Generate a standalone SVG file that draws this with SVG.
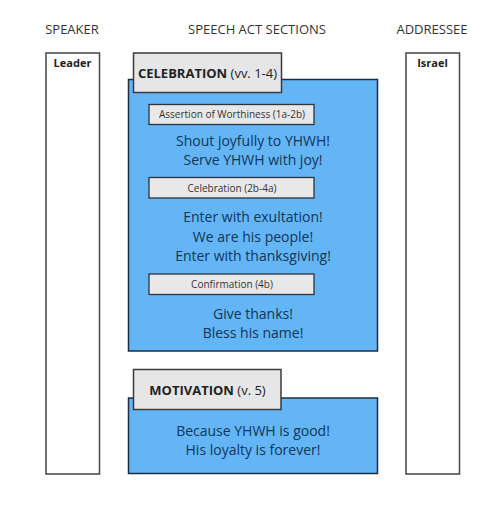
<svg xmlns="http://www.w3.org/2000/svg" width="500" height="509" viewBox="0 0 500 509">
<style>
text{font-family:"Open Sans","Noto Sans","DejaVu Sans",sans-serif}
.hdr{font-size:13px;fill:#333;text-anchor:middle}
.col{fill:#fff;stroke:#444;stroke-width:1.5}
.colt{font-size:11px;font-weight:bold;fill:#222;text-anchor:middle}
.blue{fill:#64b5f6;stroke:#1c2e40;stroke-width:1.5}
.tab{fill:#e6e6e6;stroke:#3a3a3a;stroke-width:1.5}
.tabt{font-size:13px;fill:#222;text-anchor:middle}
.sub{fill:#e8e8e8;stroke:#2a3440;stroke-width:1.3}
.subt{font-size:10px;fill:#333;text-anchor:middle}
.body{font-size:14px;fill:#0f3557;text-anchor:middle}
</style>
<g id="headers">
<text class="hdr" x="72" y="34">SPEAKER</text>
<text class="hdr" x="257" y="34">SPEECH ACT SECTIONS</text>
<text class="hdr" x="432" y="34">ADDRESSEE</text>
</g>
<g id="speaker">
<rect class="col" x="46" y="53" width="53.5" height="421"/>
<text class="colt" x="72.5" y="67">Leader</text>
</g>
<g id="addressee">
<rect class="col" x="406" y="53" width="53.5" height="421"/>
<text class="colt" x="432.5" y="67">Israel</text>
</g>
<g id="celebration">
<rect class="blue" x="128.5" y="79.5" width="249" height="271.5"/>
<rect class="tab" x="133.5" y="53" width="148" height="39.5"/>
<text class="tabt" x="207.5" y="78"><tspan font-weight="bold">CELEBRATION</tspan> (vv. 1-4)</text>
</g>
<g id="assertion">
<rect class="sub" x="149" y="104.5" width="165" height="20"/>
<text class="subt" x="232" y="118">Assertion of Worthiness (1a-2b)</text>
<text class="body" x="253" y="146">Shout joyfully to YHWH!</text>
<text class="body" x="253" y="165">Serve YHWH with joy!</text>
</g>
<g id="celebration-sub">
<rect class="sub" x="149" y="177.5" width="165" height="20.5"/>
<text class="subt" x="232" y="191.5">Celebration (2b-4a)</text>
<text class="body" x="253" y="222">Enter with exultation!</text>
<text class="body" x="253" y="242">We are his people!</text>
<text class="body" x="253" y="261">Enter with thanksgiving!</text>
</g>
<g id="confirmation">
<rect class="sub" x="149" y="274" width="165" height="20.5"/>
<text class="subt" x="232" y="288">Confirmation (4b)</text>
<text class="body" x="253" y="319">Give thanks!</text>
<text class="body" x="253" y="338">Bless his name!</text>
</g>
<g id="motivation">
<rect class="blue" x="128.5" y="398" width="249" height="75.5"/>
<rect class="tab" x="133.5" y="369.5" width="147.5" height="40"/>
<text class="tabt" x="207.5" y="395"><tspan font-weight="bold">MOTIVATION</tspan> (v. 5)</text>
<text class="body" x="253" y="436">Because YHWH is good!</text>
<text class="body" x="253" y="455">His loyalty is forever!</text>
</g>
<g id="connectors"/>
</svg>
